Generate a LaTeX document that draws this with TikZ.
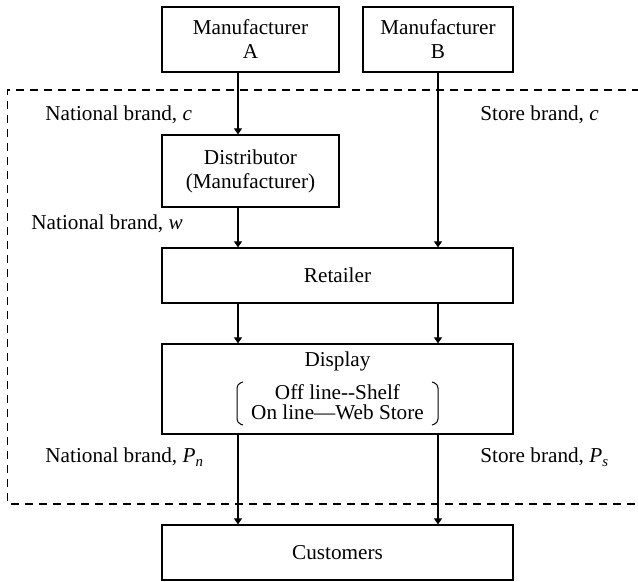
\documentclass[tikz,border=0pt]{standalone}
\usepackage{fontspec}
\setmainfont{Liberation Serif}
\usetikzlibrary{arrows.meta}
\begin{document}
\begin{tikzpicture}[x=0.5pt,y=-0.5pt,
  txt/.style={inner sep=0pt, font=\fontsize{10.6}{12}\selectfont},
  box/.style={txt, draw, line width=0.6pt, align=center},
  lbl/.style={txt, anchor=base west},
  arr/.style={line width=0.6pt, -{Triangle[length=3pt,width=4pt]}},
  dashbox/.style={line width=0.6pt, dash pattern=on 4pt off 3pt},
  brk/.style={line width=0.5pt, rounded corners=2pt}]
\useasboundingbox (0,0) rectangle (638,582);
% frame
\draw[dashbox] (640,90) -- (7.5,90) -- (7.5,504) -- (640,504);
% boxes
\node[box, minimum width=88.5pt, minimum height=32.5pt] (ma) at (250.5,39.5) {Manufacturer\\A};
\node[box, minimum width=75pt, minimum height=32.5pt] (mb) at (438,39.5) {Manufacturer\\B};
\node[box, minimum width=88.5pt, minimum height=36pt] (dist) at (250.5,171) {Distributor\\(Manufacturer)};
\node[box, minimum width=175.5pt, minimum height=27.5pt] (ret) at (337.5,275.5) {Retailer};
\node[box, minimum width=175.5pt, minimum height=45pt] (disp) at (337.5,389) {};
\node[box, minimum width=175.5pt, minimum height=27.5pt] (cust) at (337.5,552.5) {Customers};
% display contents
\node[txt, anchor=base] (dtitle) at (337.5,367) {Display};
\node[txt, anchor=base] (offl) at (337.5,400) {Off line-{}-Shelf};
\node[txt, anchor=base] (onl) at (337.5,420) {On line—Web Store};
\draw[brk] (243,382) -- (237,384) -- (237,423) -- (243,425);
\draw[brk] (432,382) -- (438,384) -- (438,423) -- (432,425);
% connectors
\coordinate (lx) at (238,0);
\coordinate (rx) at (438,0);
\draw[arr] (ma.south -| lx) -- (dist.north -| lx);
\draw[arr] (mb.south -| rx) -- (ret.north -| rx);
\draw[arr] (dist.south -| lx) -- (ret.north -| lx);
\draw[arr] (ret.south -| lx) -- (disp.north -| lx);
\draw[arr] (ret.south -| rx) -- (disp.north -| rx);
\draw[arr] (disp.south -| lx) -- (cust.north -| lx);
\draw[arr] (disp.south -| rx) -- (cust.north -| rx);
% labels
\node[lbl] (lnc) at (45,121) {National brand, \textit{c}};
\node[lbl] (lsc) at (480,121) {Store brand, \textit{c}};
\node[lbl] (lnw) at (31,230) {National brand, \textit{w}};
\node[lbl] (lnp) at (45,463) {National brand, \textit{P}\textsubscript{\textit{n}}};
\node[lbl] (lsp) at (480,463) {Store brand, \textit{P}\textsubscript{\textit{s}}};
\end{tikzpicture}
\end{document}
